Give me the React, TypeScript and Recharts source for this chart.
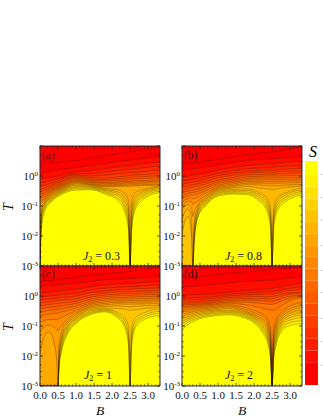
import React from "react";
import { ComposedChart, Area, Line, XAxis, YAxis, ReferenceArea, BarChart, Bar } from "recharts";

const FONT = "'Liberation Serif', 'Times New Roman', serif";
const T_MIN = 0.001;
const T_MAX = 10;
const B_MAX = 3.33;
const PLOT = 120;

// B grid and log10(T) of the 19 entropy contours (lowest level first) for each B
const gridA = [0, 0.04, 0.12, 0.3, 0.6, 1, 1.4, 1.8, 2.15, 2.35, 2.46, 2.5, 2.54, 2.65, 2.9, 3.33];
const contoursA = [
  [-3,-3,-3,-3,-3,-3,-0.97,-0.9,-0.83,-0.77,-0.7,-0.62,-0.53,-0.45,-0.35,-0.23,-0.1,0.07,0.37],
  [-1.75,-1.55,-1.4,-1.27,-1.15,-1.03,-0.91,-0.85,-0.79,-0.73,-0.67,-0.6,-0.52,-0.44,-0.34,-0.22,-0.09,0.08,0.38],
  [-1.2,-1.12,-1.05,-0.99,-0.94,-0.89,-0.84,-0.79,-0.74,-0.69,-0.63,-0.56,-0.48,-0.4,-0.31,-0.21,-0.08,0.1,0.4],
  [-0.88,-0.84,-0.8,-0.76,-0.72,-0.68,-0.64,-0.6,-0.56,-0.52,-0.48,-0.43,-0.38,-0.32,-0.25,-0.16,-0.05,0.15,0.43],
  [-0.62,-0.58,-0.55,-0.52,-0.49,-0.46,-0.43,-0.4,-0.37,-0.34,-0.31,-0.27,-0.22,-0.17,-0.11,-0.05,0.03,0.22,0.47],
  [-0.47,-0.43,-0.39,-0.35,-0.31,-0.27,-0.24,-0.21,-0.18,-0.15,-0.12,-0.08,-0.04,0,0.04,0.08,0.15,0.28,0.52],
  [-0.46,-0.43,-0.4,-0.37,-0.34,-0.31,-0.29,-0.27,-0.24,-0.21,-0.18,-0.14,-0.1,-0.05,0,0.08,0.18,0.35,0.6],
  [-0.6,-0.56,-0.52,-0.48,-0.45,-0.41,-0.36,-0.33,-0.3,-0.26,-0.22,-0.17,-0.12,-0.07,0.03,0.14,0.25,0.42,0.68],
  [-0.82,-0.74,-0.67,-0.6,-0.53,-0.46,-0.35,-0.32,-0.28,-0.24,-0.2,-0.14,-0.09,-0.03,0.07,0.18,0.3,0.48,0.74],
  [-1.2,-1.08,-0.97,-0.85,-0.72,-0.58,-0.34,-0.31,-0.27,-0.23,-0.18,-0.13,-0.07,-0.01,0.09,0.21,0.33,0.51,0.78],
  [-1.85,-1.7,-1.5,-1.3,-1.1,-0.85,-0.34,-0.3,-0.26,-0.22,-0.18,-0.12,-0.06,0.01,0.11,0.23,0.35,0.53,0.81],
  [-3,-3,-3,-3,-3,-3,-0.34,-0.3,-0.26,-0.22,-0.18,-0.12,-0.06,0.01,0.11,0.23,0.35,0.53,0.81],
  [-1.85,-1.7,-1.5,-1.3,-1.1,-0.85,-0.34,-0.3,-0.26,-0.22,-0.17,-0.11,-0.05,0.02,0.11,0.23,0.35,0.54,0.82],
  [-1.1,-1,-0.9,-0.8,-0.68,-0.55,-0.33,-0.3,-0.26,-0.21,-0.16,-0.1,-0.04,0.03,0.12,0.24,0.37,0.55,0.84],
  [-0.75,-0.68,-0.62,-0.56,-0.5,-0.44,-0.32,-0.29,-0.24,-0.2,-0.15,-0.08,-0.02,0.05,0.15,0.28,0.41,0.59,0.89],
  [-0.55,-0.5,-0.45,-0.41,-0.37,-0.33,-0.3,-0.27,-0.22,-0.17,-0.12,-0.05,0.02,0.1,0.2,0.33,0.47,0.66,0.97],
];

const gridB = [0, 0.08, 0.17, 0.26, 0.3, 0.34, 0.45, 0.65, 1, 1.4, 1.8, 2.15, 2.35, 2.46, 2.5, 2.54, 2.65, 2.9, 3.33];
const contoursB = [
  [-3,-3,-3,-3,-2,-1.47,-1.1,-0.97,-0.87,-0.77,-0.67,-0.57,-0.47,-0.37,-0.27,-0.17,-0.03,0.2,0.4],
  [-3,-3,-3,-3,-1.5,-1.2,-1,-0.9,-0.8,-0.71,-0.62,-0.53,-0.44,-0.35,-0.25,-0.15,-0.01,0.21,0.41],
  [-3,-3,-3,-3,-1.35,-1.1,-0.95,-0.84,-0.75,-0.66,-0.58,-0.5,-0.41,-0.32,-0.23,-0.13,0,0.23,0.42],
  [-3,-3,-3,-3,-1.9,-1.4,-1.05,-0.85,-0.73,-0.63,-0.55,-0.47,-0.38,-0.3,-0.21,-0.11,0.02,0.24,0.43],
  [-3,-3,-3,-3,-3,-3,-1.35,-0.95,-0.76,-0.64,-0.55,-0.46,-0.37,-0.29,-0.2,-0.1,0.03,0.25,0.44],
  [-2.2,-2.1,-2,-1.9,-1.75,-1.55,-1.2,-0.92,-0.75,-0.63,-0.54,-0.45,-0.36,-0.28,-0.19,-0.09,0.04,0.25,0.44],
  [-1.35,-1.3,-1.23,-1.17,-1.1,-1.03,-0.96,-0.83,-0.7,-0.59,-0.5,-0.42,-0.33,-0.25,-0.17,-0.07,0.06,0.27,0.46],
  [-1,-0.96,-0.91,-0.87,-0.82,-0.77,-0.71,-0.65,-0.57,-0.49,-0.42,-0.35,-0.27,-0.2,-0.11,-0.02,0.1,0.3,0.5],
  [-0.67,-0.64,-0.6,-0.56,-0.52,-0.48,-0.44,-0.4,-0.36,-0.31,-0.25,-0.19,-0.13,-0.06,0.01,0.09,0.2,0.37,0.56],
  [-0.6,-0.57,-0.53,-0.49,-0.45,-0.4,-0.36,-0.32,-0.27,-0.22,-0.17,-0.11,-0.05,0.02,0.09,0.17,0.28,0.45,0.64],
  [-0.62,-0.58,-0.53,-0.48,-0.43,-0.35,-0.29,-0.24,-0.19,-0.14,-0.09,-0.03,0.03,0.09,0.16,0.24,0.35,0.52,0.71],
  [-0.85,-0.79,-0.72,-0.65,-0.57,-0.4,-0.3,-0.24,-0.19,-0.13,-0.07,-0.01,0.05,0.12,0.18,0.27,0.38,0.55,0.76],
  [-1.15,-1.05,-0.95,-0.85,-0.73,-0.42,-0.32,-0.24,-0.18,-0.12,-0.06,0,0.06,0.13,0.2,0.29,0.4,0.56,0.79],
  [-1.75,-1.6,-1.45,-1.3,-1.1,-0.45,-0.32,-0.24,-0.18,-0.12,-0.06,0,0.06,0.13,0.2,0.29,0.41,0.57,0.81],
  [-3,-3,-3,-3,-3,-0.46,-0.33,-0.24,-0.18,-0.12,-0.06,0,0.06,0.13,0.2,0.29,0.41,0.57,0.81],
  [-1.75,-1.6,-1.45,-1.3,-1.1,-0.45,-0.32,-0.24,-0.18,-0.12,-0.06,0,0.06,0.13,0.2,0.3,0.42,0.58,0.82],
  [-1.15,-1.05,-0.95,-0.85,-0.73,-0.42,-0.32,-0.24,-0.18,-0.12,-0.06,0,0.07,0.14,0.21,0.31,0.43,0.59,0.84],
  [-0.83,-0.76,-0.69,-0.62,-0.55,-0.38,-0.3,-0.23,-0.17,-0.11,-0.05,0.01,0.08,0.15,0.23,0.33,0.46,0.61,0.89],
  [-0.64,-0.58,-0.52,-0.46,-0.4,-0.34,-0.28,-0.22,-0.16,-0.1,-0.04,0.03,0.1,0.17,0.26,0.36,0.48,0.63,0.97],
];

const gridC = [0, 0.1, 0.25, 0.4, 0.47, 0.5, 0.53, 0.6, 0.75, 1, 1.4, 1.8, 2.15, 2.35, 2.46, 2.5, 2.54, 2.65, 2.9, 3.33];
const contoursC = [
  [-3,-3,-3,-3,-3,-3,-1.93,-1.2,-0.87,-0.67,-0.55,-0.43,-0.33,-0.23,-0.13,-0.03,0.1,0.33,0.5],
  [-3,-3,-3,-3,-3,-3,-1.4,-1.05,-0.83,-0.64,-0.52,-0.41,-0.31,-0.21,-0.12,-0.02,0.11,0.34,0.51],
  [-3,-3,-3,-3,-3,-3,-1.2,-0.97,-0.78,-0.6,-0.48,-0.38,-0.28,-0.19,-0.1,0,0.13,0.35,0.52],
  [-3,-3,-3,-3,-3,-3,-1.6,-1.05,-0.78,-0.58,-0.46,-0.36,-0.26,-0.17,-0.08,0.02,0.15,0.36,0.54],
  [-3,-3,-3,-3,-3,-3,-2.3,-1.12,-0.78,-0.57,-0.45,-0.35,-0.25,-0.16,-0.07,0.03,0.16,0.37,0.55],
  [-3,-3,-3,-3,-3,-3,-3,-1.17,-0.78,-0.56,-0.44,-0.34,-0.24,-0.15,-0.06,0.03,0.16,0.37,0.55],
  [-2.4,-2.3,-2.2,-2.1,-2,-1.85,-1.6,-1.1,-0.76,-0.55,-0.43,-0.33,-0.24,-0.15,-0.06,0.04,0.17,0.38,0.56],
  [-1.85,-1.75,-1.65,-1.55,-1.45,-1.35,-1.2,-1,-0.72,-0.53,-0.42,-0.32,-0.23,-0.14,-0.05,0.05,0.18,0.38,0.57],
  [-1.3,-1.24,-1.17,-1.1,-1.03,-0.95,-0.87,-0.77,-0.63,-0.49,-0.39,-0.3,-0.21,-0.12,-0.03,0.07,0.2,0.4,0.59],
  [-0.92,-0.88,-0.83,-0.78,-0.73,-0.68,-0.62,-0.56,-0.49,-0.41,-0.33,-0.25,-0.17,-0.09,0,0.1,0.23,0.43,0.63],
  [-0.62,-0.59,-0.55,-0.51,-0.46,-0.41,-0.37,-0.33,-0.28,-0.23,-0.17,-0.11,-0.04,0.03,0.11,0.2,0.31,0.49,0.69],
  [-0.53,-0.5,-0.47,-0.44,-0.4,-0.35,-0.3,-0.25,-0.2,-0.14,-0.09,-0.03,0.03,0.1,0.17,0.26,0.37,0.54,0.74],
  [-0.72,-0.67,-0.62,-0.55,-0.42,-0.33,-0.26,-0.21,-0.16,-0.11,-0.05,0.01,0.07,0.14,0.21,0.29,0.4,0.56,0.78],
  [-1.05,-0.95,-0.84,-0.72,-0.44,-0.35,-0.27,-0.21,-0.16,-0.1,-0.05,0.01,0.07,0.14,0.22,0.3,0.41,0.57,0.81],
  [-1.7,-1.5,-1.3,-1.05,-0.47,-0.36,-0.27,-0.21,-0.15,-0.1,-0.04,0.02,0.08,0.15,0.22,0.31,0.42,0.58,0.82],
  [-3,-3,-3,-3,-0.48,-0.36,-0.27,-0.21,-0.15,-0.1,-0.04,0.02,0.08,0.15,0.23,0.31,0.42,0.58,0.83],
  [-1.7,-1.5,-1.3,-1.05,-0.47,-0.36,-0.27,-0.21,-0.15,-0.1,-0.04,0.02,0.08,0.15,0.23,0.31,0.42,0.58,0.83],
  [-1.05,-0.95,-0.84,-0.72,-0.46,-0.35,-0.27,-0.21,-0.15,-0.09,-0.03,0.03,0.09,0.16,0.24,0.32,0.43,0.59,0.85],
  [-0.78,-0.71,-0.64,-0.55,-0.42,-0.33,-0.26,-0.2,-0.14,-0.08,-0.02,0.04,0.1,0.17,0.25,0.34,0.46,0.61,0.89],
  [-0.64,-0.57,-0.5,-0.43,-0.37,-0.31,-0.25,-0.19,-0.13,-0.07,-0.01,0.05,0.12,0.19,0.27,0.37,0.49,0.64,0.97],
];

const gridD = [0, 0.05, 0.15, 0.4, 0.8, 1.3, 1.7, 2.05, 2.25, 2.38, 2.46, 2.5, 2.54, 2.62, 2.75, 3, 3.33];
const contoursD = [
  [-1.17,-1.03,-0.93,-0.85,-0.77,-0.68,-0.6,-0.53,-0.47,-0.4,-0.35,-0.3,-0.25,-0.2,-0.13,-0.07,0.03,0.3,0.6],
  [-1.08,-0.98,-0.89,-0.82,-0.74,-0.66,-0.59,-0.52,-0.46,-0.4,-0.35,-0.3,-0.25,-0.2,-0.13,-0.07,0.03,0.3,0.61],
  [-0.97,-0.89,-0.82,-0.76,-0.7,-0.63,-0.57,-0.51,-0.45,-0.39,-0.34,-0.29,-0.24,-0.19,-0.12,-0.06,0.04,0.31,0.62],
  [-0.8,-0.75,-0.7,-0.65,-0.6,-0.55,-0.5,-0.45,-0.4,-0.36,-0.32,-0.28,-0.24,-0.19,-0.12,-0.05,0.05,0.33,0.64],
  [-0.68,-0.64,-0.6,-0.56,-0.52,-0.48,-0.44,-0.4,-0.36,-0.32,-0.28,-0.24,-0.2,-0.15,-0.09,-0.03,0.07,0.37,0.69],
  [-0.63,-0.59,-0.55,-0.51,-0.47,-0.42,-0.37,-0.33,-0.29,-0.24,-0.2,-0.15,-0.1,-0.05,0,0.05,0.13,0.44,0.75],
  [-0.72,-0.68,-0.64,-0.6,-0.56,-0.52,-0.48,-0.43,-0.37,-0.28,-0.2,-0.14,-0.09,-0.03,0.03,0.09,0.18,0.48,0.8],
  [-0.95,-0.9,-0.85,-0.8,-0.75,-0.7,-0.65,-0.58,-0.5,-0.36,-0.23,-0.15,-0.09,-0.02,0.05,0.12,0.21,0.5,0.83],
  [-1.25,-1.18,-1.1,-1.03,-0.95,-0.87,-0.79,-0.71,-0.62,-0.41,-0.25,-0.16,-0.09,-0.02,0.06,0.14,0.23,0.52,0.85],
  [-1.6,-1.5,-1.4,-1.3,-1.2,-1.1,-1,-0.9,-0.78,-0.45,-0.27,-0.17,-0.1,-0.02,0.07,0.15,0.24,0.53,0.87],
  [-2.15,-2.05,-1.95,-1.85,-1.72,-1.6,-1.45,-1.3,-1.1,-0.47,-0.28,-0.18,-0.1,-0.02,0.07,0.15,0.25,0.53,0.87],
  [-3,-3,-3,-3,-3,-3,-3,-3,-3,-0.48,-0.28,-0.18,-0.1,-0.02,0.07,0.15,0.25,0.53,0.88],
  [-2.15,-2.05,-1.95,-1.85,-1.72,-1.6,-1.45,-1.3,-1.1,-0.47,-0.27,-0.17,-0.09,-0.01,0.08,0.16,0.26,0.53,0.88],
  [-1.6,-1.5,-1.4,-1.3,-1.2,-1.1,-1,-0.9,-0.78,-0.43,-0.24,-0.14,-0.06,0.01,0.1,0.18,0.28,0.54,0.89],
  [-1.2,-1.12,-1.04,-0.97,-0.89,-0.81,-0.73,-0.65,-0.55,-0.33,-0.17,-0.09,-0.01,0.06,0.14,0.21,0.32,0.56,0.9],
  [-0.98,-0.89,-0.8,-0.72,-0.65,-0.58,-0.5,-0.42,-0.33,-0.15,-0.07,-0.01,0.05,0.1,0.18,0.26,0.37,0.6,0.94],
  [-0.92,-0.82,-0.72,-0.63,-0.55,-0.47,-0.39,-0.31,-0.22,-0.04,0,0.03,0.1,0.14,0.23,0.31,0.43,0.63,0.95],
];

const xMajor = [0, 0.5, 1, 1.5, 2, 2.5, 3];
const xMinor = [0.1, 0.2, 0.3, 0.4, 0.6, 0.7, 0.8, 0.9, 1.1, 1.2, 1.3, 1.4, 1.6, 1.7, 1.8, 1.9, 2.1, 2.2, 2.3, 2.4, 2.6, 2.7, 2.8, 2.9, 3.1, 3.2, 3.3];
const yMajor = [0.001, 0.01, 0.1, 1, 10];
const yMinor = [0.002, 0.003, 0.005, 0.02, 0.03, 0.05, 0.2, 0.3, 0.5, 2, 3, 5];
const yExponents: Record<string, string> = { "0.001": "-3", "0.01": "-2", "0.1": "-1", "1": "0" };

const colorbarBands = [1.95, 1, 1, 1, 1, 1, 1, 1, 1, 1, 1, 1, 1, 1, 1, 1, 1, 1.2];
const colorbarTicks = [1.7, 3.7, 5.7, 7.9, 9.8, 11.9, 14.1, 16, 18];

const levelCount = 19;
const levelIds = Array.from({ length: levelCount }, (_, i) => i);
const levelColor = (k: number) => `rgb(255,${Math.round(255 * Math.max(0, 1 - (k + 1) / 18))},0)`;

function toRows(grid: number[], contours: number[][]) {
  return grid.map((B, i) => {
    const row: Record<string, number> = { B };
    contours[i].forEach((logT, k) => {
      row[`L${k}`] = Math.pow(10, logT);
    });
    return row;
  });
}

function XTick({ x, y, payload, showLabel }: any) {
  const major = xMajor.includes(payload.value);
  const len = major ? 3 : 1.5;
  return (
    <g>
      <line x1={x} x2={x} y1={y} y2={y - len} stroke="#222" strokeWidth={0.8} />
      <line x1={x} x2={x} y1={y - PLOT} y2={y - PLOT + len} stroke="#222" strokeWidth={0.8} />
      {showLabel && major ? (
        <text x={x} y={y + 13} textAnchor="middle" fontFamily={FONT} fontSize={11} fill="#111">
          {payload.value.toFixed(1)}
        </text>
      ) : null}
    </g>
  );
}

function YTick({ x, y, payload }: any) {
  const major = yMajor.includes(payload.value);
  const len = major ? 3 : 1.5;
  const exp = yExponents[String(payload.value)];
  return (
    <g>
      <line x1={x} x2={x + len} y1={y} y2={y} stroke="#222" strokeWidth={0.8} />
      <line x1={x + PLOT} x2={x + PLOT - len} y1={y} y2={y} stroke="#222" strokeWidth={0.8} />
      {exp ? (
        <text x={x - 2} y={y + 4} textAnchor="end" fontFamily={FONT} fontSize={11} fill="#111">
          10
          <tspan dy={-4} fontSize={7}>{exp}</tspan>
        </text>
      ) : null}
    </g>
  );
}

function Panel({ grid, contours, left, top, bottomAxis }: any) {
  const rows = toRows(grid, contours);
  const bottom = bottomAxis ? 32 : 10;
  return (
    <div style={{ position: "absolute", left, top }}>
      <ComposedChart width={40 + PLOT + 4} height={6 + PLOT + bottom} data={rows} margin={{ top: 6, right: 4, bottom: 0, left: 0 }}>
        <XAxis
          dataKey="B"
          type="number"
          domain={[0, B_MAX]}
          ticks={[...xMajor, ...xMinor]}
          interval={0}
          allowDataOverflow
          height={bottom}
          axisLine={false}
          tickLine={false}
          tickSize={0}
          tickMargin={0}
          tick={(p: any) => <XTick {...p} showLabel={bottomAxis} />}
        />
        <YAxis
          type="number"
          scale="log"
          domain={[T_MIN, T_MAX]}
          ticks={[...yMajor, ...yMinor]}
          interval={0}
          allowDataOverflow
          width={40}
          axisLine={false}
          tickLine={false}
          tickSize={0}
          tickMargin={0}
          tick={(p: any) => <YTick {...p} />}
        />
        <ReferenceArea x1={0} x2={B_MAX} y1={T_MIN} y2={T_MAX} fill="#ffff00" fillOpacity={1} stroke="none" />
        {levelIds.map((k) => (
          <Area
            key={`a${k}`}
            dataKey={(d: any) => [d[`L${k}`], T_MAX]}
            type="monotoneX"
            fill={levelColor(k)}
            fillOpacity={1}
            stroke="none"
            isAnimationActive={false}
            dot={false}
            activeDot={false}
          />
        ))}
        {levelIds.map((k) => (
          <Line
            key={`l${k}`}
            dataKey={`L${k}`}
            type="monotoneX"
            stroke="#2a1500"
            strokeOpacity={0.45}
            strokeWidth={0.65}
            isAnimationActive={false}
            dot={false}
            activeDot={false}
          />
        ))}
        <ReferenceArea x1={0} x2={B_MAX} y1={T_MIN} y2={T_MAX} fill="none" stroke="#2b2b2b" strokeWidth={1} />
        {bottomAxis ? (
          <text x={100} y={6 + PLOT + 29} textAnchor="middle" fontFamily={FONT} fontStyle="italic" fontSize={13.5} fill="#111">B</text>
        ) : null}
        {left === 0 ? (
          <text transform={`translate(13,${6 + 61}) rotate(-90)`} textAnchor="middle" fontFamily={FONT} fontStyle="italic" fontSize={14} fill="#111">T</text>
        ) : null}
      </ComposedChart>
    </div>
  );
}

function Colorbar() {
  const row: Record<string, number | string> = { name: "S" };
  colorbarBands.forEach((v, i) => {
    row[`b${i}`] = v;
  });
  const total = colorbarBands.reduce((a, b) => a + b, 0);
  return (
    <div style={{ position: "absolute", left: 300, top: 155 }}>
      <BarChart width={23} height={234} data={[row]} margin={{ top: 6, right: 0, bottom: 4, left: 5 }} barCategoryGap={0}>
        <XAxis dataKey="name" hide />
        <YAxis
          orientation="right"
          type="number"
          domain={[0, total]}
          ticks={colorbarTicks}
          interval={0}
          width={5}
          axisLine={false}
          tickLine={false}
          tickSize={0}
          tickMargin={0}
          tick={({ x, y }: any) => <line x1={x + 2} x2={x + 5} y1={y} y2={y} stroke="#d8d8d8" />}
        />
        {colorbarBands.map((_, i) => (
          <Bar
            key={i}
            dataKey={`b${i}`}
            stackId="s"
            fill={`rgb(255,${Math.round((255 * i) / 17)},0)`}
            isAnimationActive={false}
          />
        ))}
      </BarChart>
    </div>
  );
}

function Tag({ x, baseline, children }: any) {
  return (
    <div style={{ position: "absolute", left: x, top: baseline - 10, fontSize: 11.5, lineHeight: "12px", color: "#3a0808", whiteSpace: "nowrap" }}>
      {children}
    </div>
  );
}

function J2({ x, baseline, value }: any) {
  return (
    <div style={{ position: "absolute", left: x, top: baseline - 10, fontSize: 12, lineHeight: "12px", color: "#111", whiteSpace: "nowrap" }}>
      <i>J</i>
      <span style={{ fontSize: 8, position: "relative", top: 2 }}>2</span>
      {` = ${value}`}
    </div>
  );
}

export default function App() {
  return (
    <div style={{ position: "absolute", left: 0, top: 0, width: 323, height: 418, background: "#fff", fontFamily: FONT }}>
      <Panel grid={gridA} contours={contoursA} left={0} top={140} bottomAxis={false} />
      <Panel grid={gridB} contours={contoursB} left={142} top={140} bottomAxis={false} />
      <Panel grid={gridC} contours={contoursC} left={0} top={260} bottomAxis />
      <Panel grid={gridD} contours={contoursD} left={142} top={260} bottomAxis />
      <Colorbar />
      <Tag x={42} baseline={159}>(a)</Tag>
      <Tag x={184} baseline={159}>(b)</Tag>
      <Tag x={42} baseline={278}>(c)</Tag>
      <Tag x={184} baseline={278}>(d)</Tag>
      <J2 x={83} baseline={260} value="0.3" />
      <J2 x={225} baseline={260} value="0.8" />
      <J2 x={84} baseline={379} value="1" />
      <J2 x={225} baseline={379} value="2" />
      <div style={{ position: "absolute", left: 309, top: 143, fontSize: 16, fontStyle: "italic", lineHeight: "18px" }}>S</div>
    </div>
  );
}
